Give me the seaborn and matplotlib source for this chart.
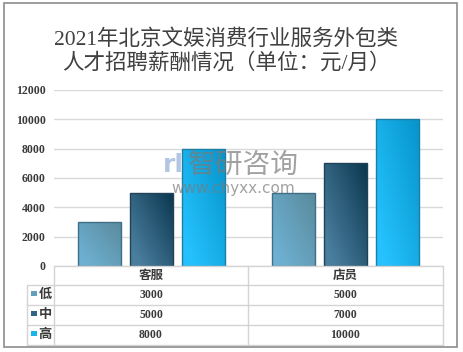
import numpy as np
import pandas as pd
import matplotlib
matplotlib.use("Agg")
import matplotlib.pyplot as plt
import seaborn as sns
from matplotlib.colors import LinearSegmentedColormap
from matplotlib.patches import Rectangle

# 数据
categories = ["客服", "店员"]
levels = ["低", "中", "高"]
low = [3000, 5000]
mid = [5000, 7000]
high = [8000, 10000]
yticks = [0, 2000, 4000, 6000, 8000, 10000, 12000]
title = "2021年北京文娱消费行业服务外包类\n人才招聘薪酬情况（单位：元/月）"

df = pd.DataFrame({
    "岗位": categories * 3,
    "水平": [levels[0]] * 2 + [levels[1]] * 2 + [levels[2]] * 2,
    "薪酬": low + mid + high,
})

colors = ["#62a0bd", "#2f6585", "#18b4ee"]
grads = [("#6eb0d2", "#5a8c9e"), ("#4a7e9e", "#0d3a52"), ("#25c2ff", "#0796cc")]
edges = ["#3f6f88", "#1f4258", "#1d7fa6"]

sns.set_style("white")
plt.rcParams["font.family"] = ["Liberation Serif", "Noto Sans CJK SC", "DejaVu Sans"]

W, H = 463, 352
fig = plt.figure(figsize=(W / 100, H / 100), dpi=100)

def px(x0, y0, x1, y1):
    return [x0 / W, 1 - y1 / H, (x1 - x0) / W, (y1 - y0) / H]

# 外框
fig.patches.append(Rectangle((4 / W, 1 - 347 / H), 453 / W, 344 / H, transform=fig.transFigure,
                             fill=False, edgecolor="#8c8c8c", lw=1.2))

fig.text(226 / W, 1 - 51 / H, title, ha="center", va="center", fontsize=15.5,
         color="#404040", linespacing=1.2)

ax = fig.add_axes(px(54, 90, 443, 266))
sns.barplot(data=df, x="岗位", y="薪酬", hue="水平", order=categories, hue_order=levels,
            palette=colors, gap=0.17, ax=ax, legend=False, zorder=3)
ax.set_ylim(0, 12000)
ax.set_yticks(yticks)
ax.set_yticklabels([str(v) for v in yticks], fontsize=8.5, fontweight="bold", color="#3a3a3a")
ax.tick_params(axis="y", length=0, pad=6)
ax.set_xticks([])
ax.set_xlabel("")
ax.set_ylabel("")
for s in ax.spines.values():
    s.set_visible(False)
ax.grid(axis="y", color="#d9d9d9", lw=1, zorder=0)

# 渐变填充
yy, xx = np.mgrid[0:1:50j, 0:1:50j]
g = np.clip(0.65 * xx + 0.55 * (1 - yy) - 0.15, 0, 1)
for i, bar in enumerate(ax.patches):
    k = i // 2
    cmap = LinearSegmentedColormap.from_list("g%d" % k, grads[k])
    x0, y0 = bar.get_x(), bar.get_y()
    w, h = bar.get_width(), bar.get_height()
    im = ax.imshow(g, cmap=cmap, extent=[x0, x0 + w, y0, y0 + h], origin="upper",
                   aspect="auto", zorder=4)
    im.set_clip_path(bar)
    ax.add_patch(Rectangle((x0, y0), w, h, fill=False, edgecolor=edges[k], lw=1, zorder=5))
ax.set_xlim(-0.5, 1.5)
ax.set_ylim(0, 12000)

# 数据表
tx = fig.add_axes(px(24, 264, 446, 348))
tx.set_xlim(24, 446)
tx.set_ylim(348, 264)
tx.axis("off")
lc = "#d4d4d4"
tx.plot([54, 443], [266, 266], color=lc, lw=1)
for y in [285, 305, 325, 345]:
    tx.plot([27, 443], [y, y], color=lc, lw=1)
tx.plot([27, 27], [285, 345], color=lc, lw=1)
for x in [54, 248, 443]:
    tx.plot([x, x], [266, 345], color=lc, lw=1)
col_c = [151, 345.5]
for c, name in zip(col_c, categories):
    tx.text(c, 275.5, name, ha="center", va="center", fontsize=9, fontweight="bold", color="#3a3a3a")
rows = [low, mid, high]
for r, (lev, vals) in enumerate(zip(levels, rows)):
    yc = 295 + 20 * r
    tx.add_patch(Rectangle((31.5, yc - 4.5), 5, 5, facecolor=colors[r], edgecolor="none"))
    tx.text(45, yc, lev, ha="center", va="center", fontsize=9.5, fontweight="bold", color="#3a3a3a")
    for c, v in zip(col_c, vals):
        tx.text(c, yc, str(v), ha="center", va="center", fontsize=8.5, fontweight="bold",
                color="#3a3a3a")

# 水印
fig.text(243 / W, 1 - 165 / H, "智研咨询", ha="center", va="center", fontsize=20,
         color="#7a7a7a", alpha=0.7, family=["Noto Sans CJK SC"], zorder=10)
fig.text(173 / W, 1 - 165 / H, "rl", ha="center", va="center", fontsize=18, fontweight="bold",
         color="#7f9fd0", alpha=0.6, family=["DejaVu Sans"], zorder=10)
fig.text(233 / W, 1 - 188 / H, "www.chyxx.com", ha="center", va="center", fontsize=11,
         color="#7a7a7a", alpha=0.7, family=["DejaVu Sans"], zorder=10)

fig.savefig("out.png", dpi=100)
